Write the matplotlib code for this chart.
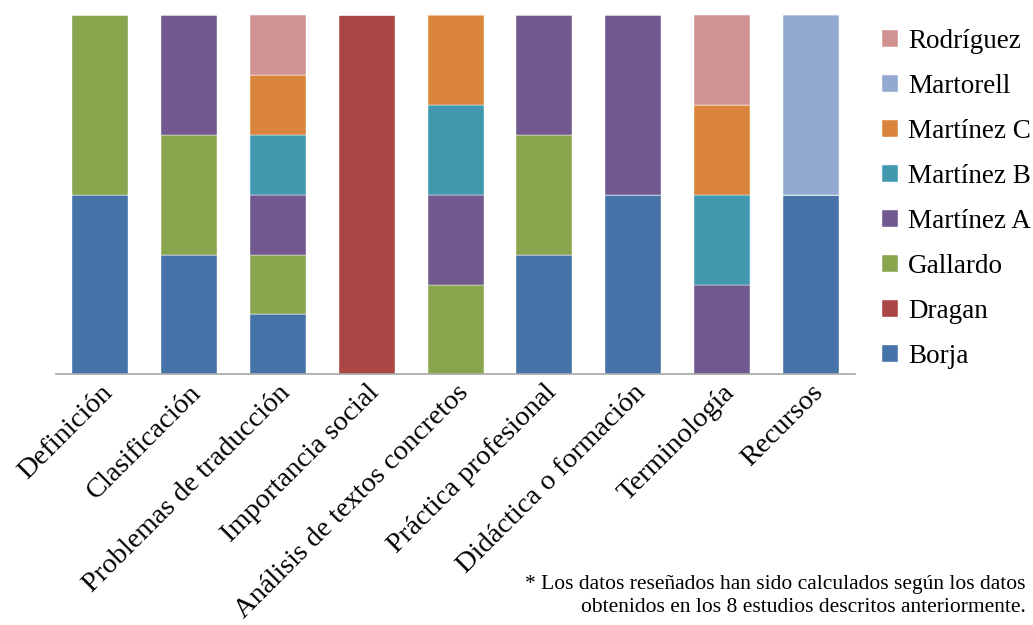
import numpy as np
import matplotlib
matplotlib.use("Agg")
from matplotlib import pyplot as plt

plt.rcParams['font.family'] = ['Liberation Serif', 'DejaVu Serif']

categorias = ["Definición", "Clasificación", "Problemas de traducción", "Importancia social",
              "Análisis de textos concretos", "Práctica profesional", "Didáctica o formación",
              "Terminología", "Recursos"]

# numero de estudios de cada autor por categoria
borja = [1, 1, 1, 0, 0, 1, 1, 0, 1]
dragan = [0, 0, 0, 1, 0, 0, 0, 0, 0]
gallardo = [1, 1, 1, 0, 1, 1, 0, 0, 0]
martinez_a = [0, 1, 1, 0, 1, 1, 1, 1, 0]
martinez_b = [0, 0, 1, 0, 1, 0, 0, 1, 0]
martinez_c = [0, 0, 1, 0, 1, 0, 0, 1, 0]
martorell = [0, 0, 0, 0, 0, 0, 0, 0, 1]
rodriguez = [0, 0, 1, 0, 0, 0, 0, 1, 0]

autores = ["Borja", "Dragan", "Gallardo", "Martínez A", "Martínez B", "Martínez C", "Martorell", "Rodríguez"]
series = [borja, dragan, gallardo, martinez_a, martinez_b, martinez_c, martorell, rodriguez]
colores = ["#4572A7", "#AA4643", "#89A54E", "#71588F", "#4198AF", "#DB843D", "#93A9CF", "#D19392"]

datos = np.array(series, dtype=float)
porcentajes = datos / datos.sum(axis=0) * 100

fig = plt.figure(figsize=(10.33, 6.25), dpi=100)
ax = fig.add_axes([0.054, 0.401, 0.774, 0.575])

x = np.arange(len(categorias))
base = np.zeros(len(categorias))
barras = []
for nombre, valores, color in zip(autores, porcentajes, colores):
    b = ax.bar(x, valores, 0.63, bottom=base, color=color, label=nombre,
               edgecolor="white", linewidth=0.3)
    barras.append(b)
    base += valores

ax.set_xlim(-0.5, len(categorias) - 0.5)
ax.set_ylim(0, 100)
ax.set_yticks([])
for s in ["top", "right", "left"]:
    ax.spines[s].set_visible(False)
ax.spines["bottom"].set_color("#A6A6A6")
ax.spines["bottom"].set_linewidth(1.2)
ax.set_xticks(x)
ax.set_xticklabels(categorias, rotation=45, ha="right", rotation_mode="anchor", fontsize=20.5)
ax.tick_params(axis="x", length=0, pad=4)

fig.legend(barras[::-1], autores[::-1], loc="upper left", bbox_to_anchor=(0.854, 0.953),
           frameon=False, fontsize=19.5, handlelength=0.6, handleheight=0.6,
           handletextpad=0.35, labelspacing=0.735, borderpad=0, borderaxespad=0)

fig.text(0.993, 0.012, "* Los datos reseñados han sido calculados según los datos\n"
         "obtenidos en los 8 estudios descritos anteriormente.",
         ha="right", va="bottom", fontsize=15.5, multialignment="right", linespacing=1.3)

fig.savefig("out.png", dpi=100)
